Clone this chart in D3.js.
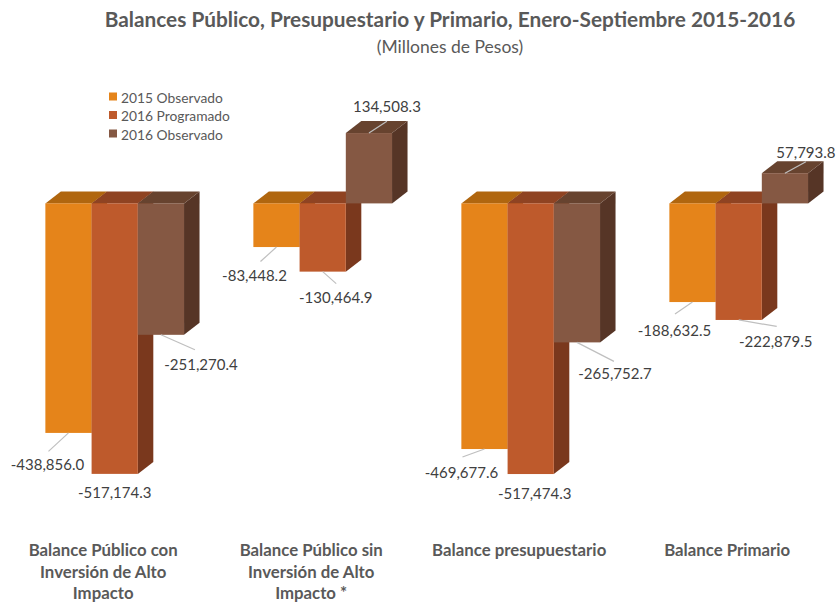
<!DOCTYPE html>
<html>
<head>
<meta charset="utf-8">
<script src="https://cdn.jsdelivr.net/npm/d3@7"></script>
<style>
  html, body { margin: 0; padding: 0; background: #ffffff; }
  svg { display: block; }
</style>
</head>
<body>
<svg id="chart" width="838" height="603"></svg>
<script>
// ---------- DATA ----------
const titleText = "Balances Público, Presupuestario y Primario, Enero-Septiembre 2015-2016";
const subtitleText = "(Millones de Pesos)";
const categories = [
  "Balance Público con Inversión de Alto Impacto",
  "Balance Público sin Inversión de Alto Impacto *",
  "Balance presupuestario",
  "Balance Primario"
];
const categoryLines = [
  ["Balance Público con", "Inversión de Alto", "Impacto"],
  ["Balance Público sin", "Inversión de Alto", "Impacto *"],
  ["Balance presupuestario"],
  ["Balance Primario"]
];
const seriesNames = ["2015 Observado", "2016 Programado", "2016 Observado"];
const observado2015 = [-438856.0, -83448.2, -469677.6, -188632.5];
const programado2016 = [-517174.3, -130464.9, -517474.3, -222879.5];
const observado2016 = [-251270.4, 134508.3, -265752.7, 57793.8];
const seriesValues = [observado2015, programado2016, observado2016];

// ---------- STYLE / LAYOUT ----------
const colors = [
  { front: "#E5841A", top: "#B0660F", side: "#A85A12" },
  { front: "#BE5A2C", top: "#8F4322", side: "#7A381D" },
  { front: "#855843", top: "#67432F", side: "#563526" }
];
const depthX = 15.5, depthY = 12;
// label placement relative to bar end (dx, dy of label centre; leader end lx, ly or null)
const labelLayout = [
  [[-21, 31, -20, 18.5], [-22, 28, -16, 14.5], [-23, 22.5, -22, 8], [-18, 28, -17.5, 12]],
  [[0, 18, null, null], [13, 25, 13.5, 12], [4, 19, null, null], [37, 21, 38, 6.5]],
  [[40, 29, 34, 15], [18, -27, 18, -11.7], [38, 31, 37, 19], [21, -21.5, 21, -11.5]]
];

const svg = d3.select("#chart");
const fmt = d3.formatLocale({ decimal: ".", thousands: ",", grouping: [3], currency: ["$", ""], minus: "-" }).format(",.1f");

const x = d3.scaleBand().domain(categories).range([10.7, 842.7]).paddingInner(1 / 3).paddingOuter(1 / 6);
const xi = d3.scaleBand().domain(seriesNames).range([0, x.bandwidth()]);
const y = d3.scaleLinear().domain([-550000, 150000]).range([491.05, 124.95]);

// Title
svg.append("text")
  .attr("x", 450).attr("y", 27)
  .attr("text-anchor", "middle")
  .style("font-family", "Lato, 'Open Sans', sans-serif")
  .style("font-weight", "bold")
  .style("font-size", "20.8px")
  .style("fill", "#595959")
  .text(titleText);
svg.append("text")
  .attr("x", 450).attr("y", 53)
  .attr("text-anchor", "middle")
  .style("font-family", "Lato, 'Open Sans', sans-serif")
  .style("font-size", "17.5px")
  .style("fill", "#595959")
  .text(subtitleText);

// Bars
const gBars = svg.append("g");
categories.forEach((cat, ci) => {
  seriesNames.forEach((s, si) => {
    const v = seriesValues[si][ci];
    const x0 = x(cat) + xi(s);
    const x1 = x0 + xi.bandwidth();
    const y0 = y(0), yv = y(v);
    const top = Math.min(y0, yv), bot = Math.max(y0, yv);
    const c = colors[si];
    const g = gBars.append("g");
    g.append("path")
      .attr("d", `M${x1},${top} L${x1 + depthX},${top - depthY} L${x1 + depthX},${bot - depthY} L${x1},${bot} Z`)
      .attr("fill", c.side);
    g.append("path")
      .attr("d", `M${x0},${top} L${x0 + depthX},${top - depthY} L${x1 + depthX},${top - depthY} L${x1},${top} Z`)
      .attr("fill", c.top);
    g.append("rect")
      .attr("x", x0).attr("y", top)
      .attr("width", xi.bandwidth()).attr("height", bot - top)
      .attr("fill", c.front);
  });
});

// Data labels
const gLab = svg.append("g");
categories.forEach((cat, ci) => {
  seriesNames.forEach((s, si) => {
    const v = seriesValues[si][ci];
    const cx = x(cat) + xi(s) + xi.bandwidth() / 2;
    const cy = y(v);
    const L = labelLayout[si][ci];
    if (L[2] !== null) {
      gLab.append("line")
        .attr("x1", cx).attr("y1", cy)
        .attr("x2", cx + L[2]).attr("y2", cy + L[3])
        .attr("stroke", "#BFBFBF").attr("stroke-width", 1.2);
    }
    gLab.append("text")
      .attr("x", cx + L[0]).attr("y", cy + L[1])
      .attr("text-anchor", "middle")
      .attr("dominant-baseline", "central")
      .style("font-family", "Lato, 'Open Sans', sans-serif")
      .style("font-size", "15px")
      .style("fill", "#404040")
      .text(fmt(v));
  });
});

// Category labels
const gCat = svg.append("g");
categories.forEach((cat, ci) => {
  const cx = x(cat) + x.bandwidth() / 2 - 11.5;
  const t = gCat.append("text")
    .attr("x", cx)
    .attr("y", 556)
    .attr("text-anchor", "middle")
    .style("font-family", "Lato, 'Open Sans', sans-serif")
    .style("font-weight", "bold")
    .style("font-size", "16.8px")
    .style("fill", "#595959");
  categoryLines[ci].forEach((ln, li) => {
    t.append("tspan")
      .attr("x", cx)
      .attr("dy", li === 0 ? 0 : 21.5)
      .text(ln);
  });
});

// Legend
const gLeg = svg.append("g");
seriesNames.forEach((s, si) => {
  const ly = 97 + si * 18.5;
  gLeg.append("rect")
    .attr("x", 109).attr("y", ly - 4.5)
    .attr("width", 8).attr("height", 8)
    .attr("fill", colors[si].front);
  gLeg.append("text")
    .attr("x", 121).attr("y", ly)
    .attr("dominant-baseline", "central")
    .style("font-family", "Lato, 'Open Sans', sans-serif")
    .style("font-size", "13.8px")
    .style("fill", "#595959")
    .text(s);
});
</script>
</body>
</html>
